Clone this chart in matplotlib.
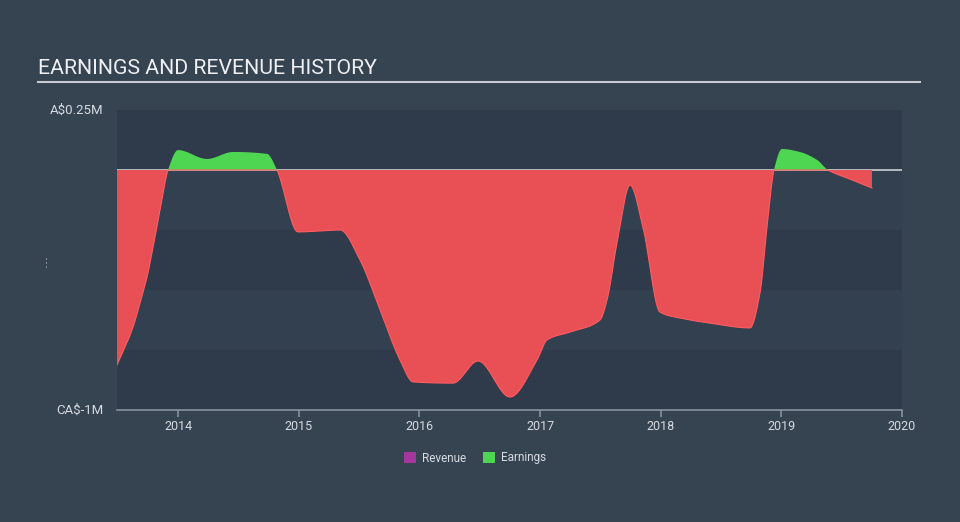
import numpy as np
import matplotlib
matplotlib.use("Agg")
import matplotlib.pyplot as plt
from matplotlib.patches import Patch

plt.rcParams['font.family'] = ['Roboto', 'DejaVu Sans']

# ---- data (earnings, A$ millions) ----
years = [2013.494, 2013.627, 2013.685, 2013.743, 2013.793, 2013.851, 2013.917, 2014.0,
         2014.240, 2014.456, 2014.738, 2014.820, 2014.994, 2015.343, 2015.508, 2015.674,
         2015.840, 2015.948, 2016.279, 2016.486, 2016.751, 2016.975, 2017.058, 2017.249,
         2017.497, 2017.555, 2017.638, 2017.746, 2017.853, 2017.994, 2018.160, 2018.409,
         2018.740, 2018.823, 2018.881, 2018.939, 2019.005, 2019.154, 2019.296, 2019.387,
         2019.544, 2019.751]
earnings = [-0.8125, -0.654, -0.554, -0.446, -0.321, -0.167, 0.0, 0.083,
            0.046, 0.075, 0.067, 0.0, -0.258, -0.25, -0.375, -0.583,
            -0.792, -0.883, -0.888, -0.796, -0.946, -0.792, -0.708, -0.675,
            -0.625, -0.542, -0.304, -0.0625, -0.238, -0.592, -0.617, -0.638,
            -0.658, -0.513, -0.238, 0.0, 0.0875, 0.075, 0.042, 0.0,
            -0.033, -0.075]
xticks = [2014, 2015, 2016, 2017, 2018, 2019, 2020]
ytick_vals = [0.25, -1.0]
ytick_labels = ["A$0.25M", "CA$-1M"]
legend_labels = ["Revenue", "Earnings"]

# ---- styles ----
FIG_BG = '#364351'
BAND_DARK = '#2f3b4a'
BAND_LIGHT = '#334050'
RED = '#e85055'
RED_EDGE = '#ff5c61'
GREEN = '#4ed653'
PURPLE = '#a4369e'
TXT = '#d6dbe1'


def pchip(x, y, xs):
    x = np.asarray(x, float); y = np.asarray(y, float)
    h = np.diff(x); d = np.diff(y) / h
    n = len(x); m = np.zeros(n)
    for k in range(1, n - 1):
        if d[k - 1] * d[k] <= 0:
            m[k] = 0.0
        else:
            w1 = 2 * h[k] + h[k - 1]; w2 = h[k] + 2 * h[k - 1]
            m[k] = (w1 + w2) / (w1 / d[k - 1] + w2 / d[k])
    m[0] = d[0]; m[-1] = d[-1]
    idx = np.clip(np.searchsorted(x, xs) - 1, 0, n - 2)
    t = (xs - x[idx]) / h[idx]
    h00 = 2 * t**3 - 3 * t**2 + 1; h10 = t**3 - 2 * t**2 + t
    h01 = -2 * t**3 + 3 * t**2; h11 = t**3 - t**2
    return h00 * y[idx] + h10 * h[idx] * m[idx] + h01 * y[idx + 1] + h11 * h[idx] * m[idx + 1]


fig = plt.figure(figsize=(9.6, 5.22), dpi=100, facecolor=FIG_BG)
ax = fig.add_axes([117 / 960, 1 - 410 / 522, (902 - 117) / 960, 300 / 522])
ax.set_facecolor(FIG_BG)
ax.set_xlim(2013.494, 2020.0)
ax.set_ylim(-1.0, 0.25)

# background bands
edges = [0.25, 0.0, -0.25, -0.5, -0.75, -1.0]
for i in range(5):
    ax.axhspan(edges[i + 1], edges[i], color=BAND_DARK if i % 2 == 0 else BAND_LIGHT,
               lw=0, zorder=0)

# zero line
ax.axhline(0, color='#d8dde3', lw=1.1, zorder=1)

xs = np.linspace(years[0], years[-1], 3000)
ys = pchip(years, earnings, xs)
ax.fill_between(xs, ys, 0, where=ys >= 0, interpolate=True, color=GREEN, lw=0, zorder=2)
ax.fill_between(xs, ys, 0, where=ys <= 0, interpolate=True, color=RED, lw=0, zorder=2)
ax.plot(xs, np.minimum(ys, 0), color=RED_EDGE, lw=0.8, zorder=3)

# axes styling
for s in ['left', 'right', 'top']:
    ax.spines[s].set_visible(False)
ax.spines['bottom'].set_color('#8792a0')
ax.spines['bottom'].set_linewidth(1.2)
ax.set_xticks(xticks)
ax.set_xticklabels([str(v) for v in xticks])
ax.tick_params(axis='x', colors='#8792a0', labelcolor=TXT, length=5, width=1.2,
               labelsize=9, pad=2)
ax.set_yticks([])

for v, lab in zip(ytick_vals, ytick_labels):
    ax.text(-0.017, (v + 1.0) / 1.25, lab, transform=ax.transAxes, ha='right',
            va='center', color=TXT, fontsize=9.5)
fig.text(48 / 960, 1 - 262 / 522, "- - -", rotation=90, color=TXT, fontsize=5.5,
         ha='center', va='center')

# title and underline
fig.text(38 / 960, 1 - 69 / 522, "EARNINGS AND REVENUE HISTORY", color='#eef0f3',
         fontsize=15.3, ha='left', va='center')
fig.add_artist(plt.Line2D([38 / 960, 920 / 960], [1 - 82 / 522, 1 - 82 / 522],
                          color='#c8ccd2', lw=1.5, transform=fig.transFigure))

# legend
handles = [Patch(facecolor=PURPLE, edgecolor='none'), Patch(facecolor=GREEN, edgecolor='none')]
leg = fig.legend(handles, legend_labels, loc='center', bbox_to_anchor=(475 / 960, 1 - 458 / 522),
                 ncol=2, frameon=False, fontsize=8.5, handlelength=1.0, handleheight=1.0,
                 handletextpad=0.5, columnspacing=1.5)
for t in leg.get_texts():
    t.set_color(TXT)

fig.savefig('out.png', dpi=100, facecolor=FIG_BG)
